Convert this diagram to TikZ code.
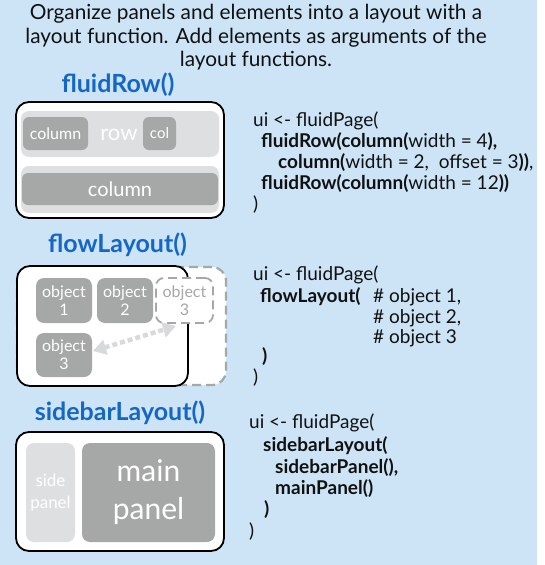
\documentclass[tikz,border=0pt]{standalone}
\usepackage{fontspec}
\setmainfont{Lato}
\usetikzlibrary{arrows.meta}
\definecolor{bgblue}{HTML}{CCE4F6}
\definecolor{ltgrey}{HTML}{DDDFE1}
\definecolor{dkgrey}{HTML}{A5A8A7}
\definecolor{ttlblue}{HTML}{1467C4}
\definecolor{arrgrey}{HTML}{D8D9DA}
\definecolor{codeblack}{HTML}{111111}
\begin{document}
\begin{tikzpicture}[x=1pt,y=-1pt,
  ttl/.style={font=\fontsize{25}{28}\selectfont\bfseries, text=ttlblue, inner sep=0},
  outerbox/.style={draw=black, line width=1.8pt, fill=white, rounded corners=13pt, inner sep=0},
  dashbox/.style={draw=dkgrey, line width=2.2pt, dash pattern=on 9pt off 5pt, fill=white, rounded corners=14pt, inner sep=0},
  lightbox/.style={fill=ltgrey, rounded corners=8pt, inner sep=0, text=white},
  darkbox/.style={fill=dkgrey, rounded corners=6pt, inner sep=0, text=white},
  objbox/.style={fill=dkgrey, rounded corners=8pt, inner sep=0, text=white, minimum width=56pt, minimum height=45pt, align=center, font=\fontsize{16}{18}\selectfont},
  ghostbox/.style={draw=dkgrey, line width=1.8pt, dash pattern=on 9pt off 5pt, fill=white, rounded corners=8pt, inner sep=0, text=dkgrey, minimum width=57pt, minimum height=45pt, align=center, font=\fontsize{16}{18}\selectfont},
  code/.style={anchor=base west, inner sep=0, text=codeblack, font=\fontsize{19}{21}\selectfont},
]
\useasboundingbox (0,0) rectangle (544,565);
\fill[bgblue] (0,0) rectangle (537,565);

% title
\node[font=\fontsize{20.8}{23.5}\selectfont, align=center, text=codeblack] (title) at (256,37.5)
  {Organize panels and elements into a layout with a\\layout function. Add elements as arguments of the\\layout functions.};

% ---------------- fluidRow
\node[ttl] (t1) at (118,85) {fluidRow()};
\node[outerbox, minimum width=208pt, minimum height=116pt] (fr) at (120,160) {};
\node[lightbox, minimum width=198pt, minimum height=46pt] (row1) at (120,134) {};
\node[darkbox, minimum width=65pt, minimum height=33pt, font=\fontsize{16}{18}\selectfont] (c1) at (55.5,133.5) {column};
\node[text=white, inner sep=0, font=\fontsize{22}{26}\selectfont] (rowlbl) at (119,135) {row};
\node[darkbox, minimum width=33pt, minimum height=33pt, font=\fontsize{15}{17}\selectfont] (c2) at (159.5,133.5) {col};
\node[lightbox, minimum width=198pt, minimum height=47pt] (row2) at (120,189.5) {};
\node[darkbox, minimum width=196pt, minimum height=32pt, font=\fontsize{20}{22}\selectfont] (c3) at (120,189) {column};

\node[code] (a1) at (253,126) {ui <- fluidPage(};
\node[code] (a2) at (261,147) {\textbf{fluidRow(column(}width = 4\textbf{),}};
\node[code] (a3) at (278,168) {\textbf{column(}width = 2,\ \ offset = 3\textbf{))},};
\node[code] (a4) at (261,189) {\textbf{fluidRow(column(}width = 12\textbf{))}};
\node[code] (a5) at (253,210) {)};

% ---------------- flowLayout
\node[ttl] (t2) at (117.5,245) {flowLayout()};
\node[dashbox, minimum width=209pt, minimum height=118pt] (flghost) at (121.5,326) {};
\node[outerbox, minimum width=171pt, minimum height=120pt] (fl) at (102.5,326) {};
\node[objbox] (o1) at (64,300.5) {object\\1};
\node[objbox] (o2) at (125,300.5) {object\\2};
\node[ghostbox] (o3g) at (184.5,300.5) {object\\3};
\node[objbox, minimum height=44pt] (o3) at (64,355) {object\\3};
\coordinate (p1) at (93,351);
\coordinate (p2) at (176,326);
\draw[arrgrey, line width=4.5pt, dash pattern=on 5pt off 3pt,
  {Triangle[width=15pt,length=13pt]}-{Triangle[width=15pt,length=13pt]}] (p1) -- (p2);

\node[code] (b1) at (253,280) {ui <- fluidPage(};
\node[code] (b2) at (260,302) {\textbf{flowLayout(}};
\node[code] (b3) at (373,302) {\# object 1,};
\node[code] (b4) at (373,323) {\# object 2,};
\node[code] (b5) at (373,343) {\# object 3};
\node[code] (b6) at (262,362) {\textbf{)}};
\node[code] (b7) at (253,383) {)};

% ---------------- sidebarLayout
\node[ttl] (t3) at (120,413) {sidebarLayout()};
\node[outerbox, minimum width=208pt, minimum height=119pt] (sl) at (120,491.5) {};
\node[lightbox, minimum width=49pt, minimum height=99pt, align=center, font=\fontsize{17}{22}\selectfont] (side) at (50.5,492.5) {side\\panel};
\node[darkbox, rounded corners=8pt, minimum width=133pt, minimum height=99pt, align=center, font=\fontsize{30}{38}\selectfont] (main) at (148.5,492.5) {main\\panel};

\node[code] (d1) at (249,428) {ui <- fluidPage(};
\node[code] (d2) at (263,451) {\textbf{sidebarLayout(}};
\node[code] (d3) at (275,473) {\textbf{sidebarPanel(),}};
\node[code] (d4) at (275,494) {\textbf{mainPanel()}};
\node[code] (d5) at (264,515) {\textbf{)}};
\node[code] (d6) at (249,537) {)};
\end{tikzpicture}
\end{document}
